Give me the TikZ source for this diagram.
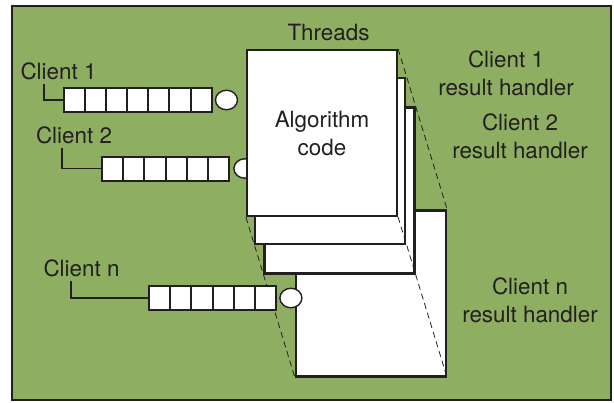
\documentclass[tikz,border=0pt]{standalone}
\usepackage{fontspec}
\setmainfont{TeX Gyre Heros}
\usetikzlibrary{positioning,shapes.geometric}
\definecolor{panelgreen}{RGB}{142,174,98}
\definecolor{inkgray}{RGB}{35,31,32}
\tikzset{
  lbl/.style={font=\fontsize{11.2}{14}\selectfont, text=inkgray, align=center, inner sep=0pt},
  thread/.style={draw=inkgray, fill=white, line width=1.1pt, minimum width=75pt, minimum height=83pt, inner sep=0pt},
  cell/.style={draw=inkgray, fill=white, line width=1pt, minimum width=10.6pt, minimum height=12pt, inner sep=0pt},
  token/.style={ellipse, draw=inkgray, fill=white, line width=0.7pt, minimum width=11pt, minimum height=9.75pt, inner sep=0pt},
  feed/.style={draw=inkgray, line width=0.9pt},
  edge/.style={draw=inkgray, line width=0.4pt, dash pattern=on 3pt off 2pt}
}
\begin{document}
\begin{tikzpicture}[x=0.5pt, y=-0.5pt]
  \useasboundingbox (0,0) rectangle (614,402);
  \draw[draw=inkgray, line width=1pt, fill=panelgreen] (12,6) rectangle (611,400);

  % client labels
  \node[lbl] (c1) at (58.5,71) {Client 1};
  \node[lbl] (c2) at (74,135) {Client 2};
  \node[lbl] (cn) at (81.5,268) {Client n};

  % thread stack, back to front
  \node[thread] (thn) at (371,293.5) {};
  \node[thread] (th3) at (339.5,190.5) {};
  \node[thread] (th2) at (330,161) {};

  % queue of client 2 sits behind the front thread
  \foreach \i in {1,...,6}
    \node[cell] (qb\i) at (102+21.2*\i-10.6,168.5) {};
  \node[token, right=1.5pt of qb6] (tb) {};
  \draw[feed] ([xshift=13pt, yshift=-2pt]c2.south west) |- (qb1.west);

  \node[thread, lbl, line width=1.1pt] (th1) at (322,133) {Algorithm\\code};

  \draw[edge] (th1.north east) -- (thn.north east);
  \draw[edge] (th1.south east) -- (thn.south east);
  \draw[edge] (th1.south west) -- (thn.south west);

  % queue of client n
  \foreach \i in {1,...,6}
    \node[cell] (qn\i) at (149+21.2*\i-10.6,298) {};
  \node[token, right=1pt of qn6] (tn) {};
  \draw[feed] ([xshift=14pt, yshift=-2pt]cn.south west) |- (qn1.west);

  % queue of client 1
  \foreach \i in {1,...,7}
    \node[cell] (qa\i) at (64+21.1*\i-10.55,100) {};
  \node[token, right=1pt of qa7] (ta) {};
  \draw[feed] ([xshift=12pt, yshift=-2pt]c1.south west) |- (qa1.west);

  \node[lbl] (thr) at (328.5,33) {Threads};
  \node[lbl] (r1) at (506,73.5) {Client 1\\result handler};
  \node[lbl] (r2) at (520,136) {Client 2\\result handler};
  \node[lbl] (rn) at (530,300.5) {Client n\\result handler};
\end{tikzpicture}
\end{document}
